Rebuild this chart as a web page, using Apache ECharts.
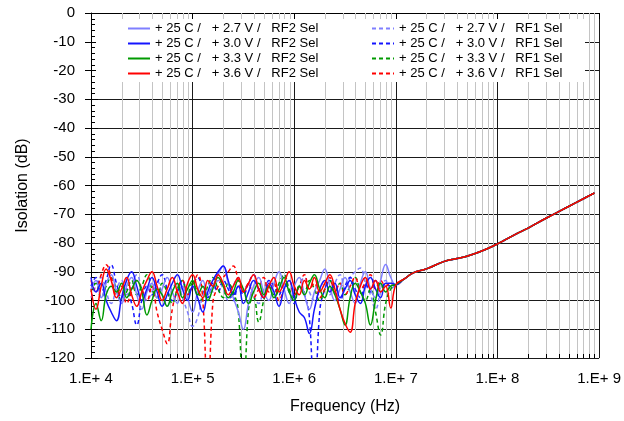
<!DOCTYPE html>
<html>
<head>
<meta charset="utf-8">
<script src="https://cdn.jsdelivr.net/npm/echarts@6/dist/echarts.min.js"></script>
<style>
  html, body { margin: 0; padding: 0; background: #fff; }
  #chart { width: 624px; height: 421px; }
</style>
</head>
<body>
<div id="chart"></div>
<script>
// Swept frequencies (Hz), noisy low band: 20 points per decade from 10 kHz to 10 MHz
const freqLow = [
  1.00e4, 1.12e4, 1.26e4, 1.41e4, 1.58e4, 1.78e4, 2.00e4, 2.24e4, 2.51e4, 2.82e4,
  3.16e4, 3.55e4, 3.98e4, 4.47e4, 5.01e4, 5.62e4, 6.31e4, 7.08e4, 7.94e4, 8.91e4,
  1.00e5, 1.12e5, 1.26e5, 1.41e5, 1.58e5, 1.78e5, 2.00e5, 2.24e5, 2.51e5, 2.82e5,
  3.16e5, 3.55e5, 3.98e5, 4.47e5, 5.01e5, 5.62e5, 6.31e5, 7.08e5, 7.94e5, 8.91e5,
  1.00e6, 1.12e6, 1.26e6, 1.41e6, 1.58e6, 1.78e6, 2.00e6, 2.24e6, 2.51e6, 2.82e6,
  3.16e6, 3.55e6, 3.98e6, 4.47e6, 5.01e6, 5.62e6, 6.31e6, 7.08e6, 7.94e6, 8.91e6,
  1.00e7
];

// Upper band (Hz) where all supply/path combinations track together
const freqHigh = [1.2e7, 1.5e7, 2e7, 3e7, 4e7, 5e7, 7e7, 1e8, 1.5e8, 2e8, 3e8, 5e8, 7e8, 9e8];
const isoHigh  = [-92.6, -90.3, -89, -86.4, -85.4, -84.6, -82.8, -80.3, -77, -74.8, -71.4, -67.3, -64.6, -62.6];

// Isolation (dB) in the low band, RF2 selected
const rf2_27 = [-96,-93,-99,-94,-91,-97,-101,-95,-92,-98,-103,-97,-94,-99,-96,-92,-97,-101,-95,-99,
  -104,-97,-93,-98,-95,-91,-88,-94,-99,-104,-110,-101,-95,-92,-97,-100,-94,-90,-96,-101,
  -95,-92,-98,-103,-97,-93,-89,-95,-100,-96,-92,-97,-101,-94,-90,-96,-99,-93,-87.5,-92,-94.5];
const rf2_30 = [-92,-97,-94,-100,-104,-107,-99,-93,-90,-95,-100,-96,-92,-97,-102,-98,-94,-91,-96,-100,
  -95,-99,-104,-97,-93,-90,-88,-93,-98,-95,-101,-97,-93,-96,-99,-94,-97,-102,-96,-93,
  -99,-104,-106,-111.5,-103,-96,-93,-97,-94,-99,-96,-93,-98,-101,-95,-92,-96,-99,-94,-94,-94.5];
const rf2_33 = [-110,-101,-107,-98,-95,-97,-94,-99,-96,-93,-97,-105,-100,-96,-98,-102,-97,-94,-99,-96,
  -93,-98,-95,-100,-96,-92,-95,-99,-97,-93,-96,-101,-97,-94,-98,-95,-99,-96,-92,-97,
  -100,-95,-98,-94,-91,-96,-99,-95,-98,-103,-108.5,-99,-94,-97,-101,-108.5,-100,-94,-97,-95,-94.5];
const rf2_36 = [-96,-103,-95,-89,-93,-99,-96,-92,-98,-102,-97,-93,-90,-95,-100,-96,-92,-97,-101,-94,
  -91,-96,-99,-93,-95,-91,-94,-98,-95,-92,-97,-94,-91,-96,-99,-95,-92,-97,-94,-90,
  -95,-98,-93,-96,-92,-97,-94,-91,-96,-103,-108,-111,-101,-95,-92,-96,-93,-97,-95,-102.6,-94.5];

// Isolation (dB) in the low band, RF1 selected
const rf1_27 = [-99,-95,-92,-97,-101,-96,-93,-98,-95,-91,-96,-100,-97,-93,-98,-102,-96,-94,-99,-104,
  -109,-106,-98,-94,-97,-93,-96,-100,-95,-92,-97,-94,-98,-101,-96,-93,-97,-95,-91,-96,
  -99,-95,-92,-97,-100,-96,-93,-98,-94,-91,-96,-92,-90,-88.7,-94,-98,-103,-97,-93,-96,-94.5];
const rf1_30 = [-95,-92,-97,-93,-87.6,-94,-99,-96,-101,-108.5,-100,-95,-98,-94,-91,-96,-100,-97,-93,-98,
  -95,-92,-96,-99,-94,-97,-93,-96,-100,-95,-98,-94,-91,-96,-99,-93,-95,-98,-94,-97,
  -101,-95,-98,-106,-140,-104,-96,-93,-97,-100,-95,-92,-96,-99,-94,-97,-93,-96,-94,-95,-94.5];
const rf1_33 = [-97,-94,-99,-95,-92,-96,-100,-97,-93,-98,-95,-91,-96,-99,-94,-97,-101,-96,-93,-98,
  -94,-97,-100,-95,-92,-96,-99,-94,-97,-104,-140,-103,-99,-107.5,-100,-95,-98,-94,-91,-96,
  -99,-95,-97,-93,-96,-100,-96,-93,-97,-94,-98,-95,-92,-97,-100,-96,-104,-112,-101,-96,-94.5];
const rf1_36 = [-93,-97,-91,-87.6,-92,-98,-95,-101,-97,-93,-96,-100,-95,-104,-110,-115,-103,-96,-93,-98,
  -95,-91,-100,-140,-101,-95,-92,-90,-88,-93,-97,-94,-99,-96,-92,-97,-94,-100,-96,-93,
  -98,-95,-91,-96,-94,-99,-96,-92,-97,-94,-98,-95,-92,-96,-94,-91,-96,-93,-95,-94,-94.5];

const yTicks = { min: -120, max: 0, step: 10 };
const xDecades = { min: 1e4, max: 1e9 };

const seriesDefs = [
  { name: '+ 25 C /   + 2.7 V /   RF1 Sel', low: rf1_27, color: '#7f7fff', dashed: true },
  { name: '+ 25 C /   + 3.0 V /   RF1 Sel', low: rf1_30, color: '#1414ff', dashed: true },
  { name: '+ 25 C /   + 3.3 V /   RF1 Sel', low: rf1_33, color: '#009a00', dashed: true },
  { name: '+ 25 C /   + 3.6 V /   RF1 Sel', low: rf1_36, color: '#ff0000', dashed: true },
  { name: '+ 25 C /   + 2.7 V /   RF2 Sel', low: rf2_27, color: '#7f7fff', dashed: false },
  { name: '+ 25 C /   + 3.0 V /   RF2 Sel', low: rf2_30, color: '#1414ff', dashed: false },
  { name: '+ 25 C /   + 3.3 V /   RF2 Sel', low: rf2_33, color: '#009a00', dashed: false },
  { name: '+ 25 C /   + 3.6 V /   RF2 Sel', low: rf2_36, color: '#ff0000', dashed: false }
];

function pairs(low) {
  const pts = freqLow.map((f, i) => [f, low[i]]);
  return pts.concat(freqHigh.map((f, i) => [f, isoHigh[i]]));
}

// Gray sub-decade grid positions (2..9 x 10^n)
const minorGrid = [];
for (let d = 4; d < 9; d++) {
  for (let m = 2; m <= 9; m++) minorGrid.push([m * Math.pow(10, d), 0]);
}

const FONT = 'Liberation Sans, Arial, sans-serif';

const lineSeries = seriesDefs.map(s => ({
  name: s.name,
  type: 'line',
  data: pairs(s.low),
  smooth: 0.45,
  symbol: 'none',
  clip: true,
  z: 3,
  lineStyle: { color: s.color, width: 1.5, type: s.dashed ? [4, 3] : 'solid' },
  itemStyle: { color: s.color }
}));

const legendBase = {
  orient: 'vertical',
  top: 22,
  padding: 0,
  itemGap: 2,
  itemWidth: 22,
  itemHeight: 10,
  z: 20,
  itemStyle: { opacity: 0, borderWidth: 0 },
  textStyle: { fontSize: 13, lineHeight: 13, color: '#000', fontFamily: FONT }
};

const chart = echarts.init(document.getElementById('chart'), null, { renderer: 'canvas' });

chart.setOption({
  animation: false,
  backgroundColor: '#fff',
  textStyle: { fontFamily: FONT },
  grid: { left: 91, top: 13, right: 24, bottom: 63, containLabel: false },
  xAxis: [{
    type: 'log',
    logBase: 10,
    min: xDecades.min,
    max: xDecades.max,
    splitNumber: 5,
    name: 'Frequency (Hz)',
    nameLocation: 'middle',
    nameGap: 41,
    nameTextStyle: { fontSize: 16, color: '#000', fontFamily: FONT },
    axisLine: { show: true, lineStyle: { color: '#000', width: 1 } },
    axisTick: { show: true, inside: false, length: 6, lineStyle: { color: '#000' } },
    axisLabel: {
      fontSize: 15, color: '#000', margin: 13, fontFamily: FONT,
      formatter: v => '1.E+ ' + Math.round(Math.log10(v))
    },
    splitLine: { show: true, lineStyle: { color: '#1a1a1a', width: 1 } }
  }],
  yAxis: [{
    type: 'value',
    min: yTicks.min,
    max: yTicks.max,
    interval: yTicks.step,
    name: 'Isolation (dB)',
    nameLocation: 'middle',
    nameGap: 60,
    nameTextStyle: { fontSize: 16, color: '#000', fontFamily: FONT },
    axisLine: { show: true, lineStyle: { color: '#000', width: 1 } },
    axisTick: { show: true, inside: true, length: 7, lineStyle: { color: '#000' } },
    minorTick: { show: true, splitNumber: 5, length: 4, lineStyle: { color: '#000' } },
    axisLabel: { fontSize: 15, color: '#000', margin: 16, fontFamily: FONT },
    splitLine: { show: true, lineStyle: { color: '#1a1a1a', width: 1 } }
  }, {
    type: 'value',
    position: 'left',
    min: yTicks.min,
    max: yTicks.max,
    interval: yTicks.step,
    axisLine: { show: false },
    axisTick: { show: true, inside: false, length: 6, lineStyle: { color: '#000' } },
    axisLabel: { show: false },
    splitLine: { show: false }
  }],
  legend: [
    Object.assign({}, legendBase, {
      data: seriesDefs.filter(s => !s.dashed).map(s => s.name),
      left: 127
    }),
    Object.assign({}, legendBase, {
      data: seriesDefs.filter(s => s.dashed).map(s => s.name),
      left: 371
    })
  ],
  graphic: [{
    type: 'rect',
    z: 10,
    silent: true,
    shape: { x: 96, y: 19, width: 489, height: 63 },
    style: { fill: '#fff' }
  }],
  series: [{
    type: 'custom',
    name: 'minor-grid',
    silent: true,
    z: 1,
    data: minorGrid,
    encode: { x: 0, y: 1 },
    renderItem: (params, api) => {
      const v = api.value(0);
      const top = api.coord([v, yTicks.max]);
      const bot = api.coord([v, yTicks.min]);
      const x = Math.round(top[0]) + 0.5;
      return {
        type: 'group',
        children: [
          { type: 'line', shape: { x1: x, y1: top[1], x2: x, y2: bot[1] },
            style: { stroke: '#c4c4c4', lineWidth: 1 } },
          { type: 'line', shape: { x1: x, y1: bot[1], x2: x, y2: bot[1] - 4 },
            style: { stroke: '#000', lineWidth: 1 } }
        ]
      };
    }
  }].concat(lineSeries)
});
</script>
</body>
</html>
